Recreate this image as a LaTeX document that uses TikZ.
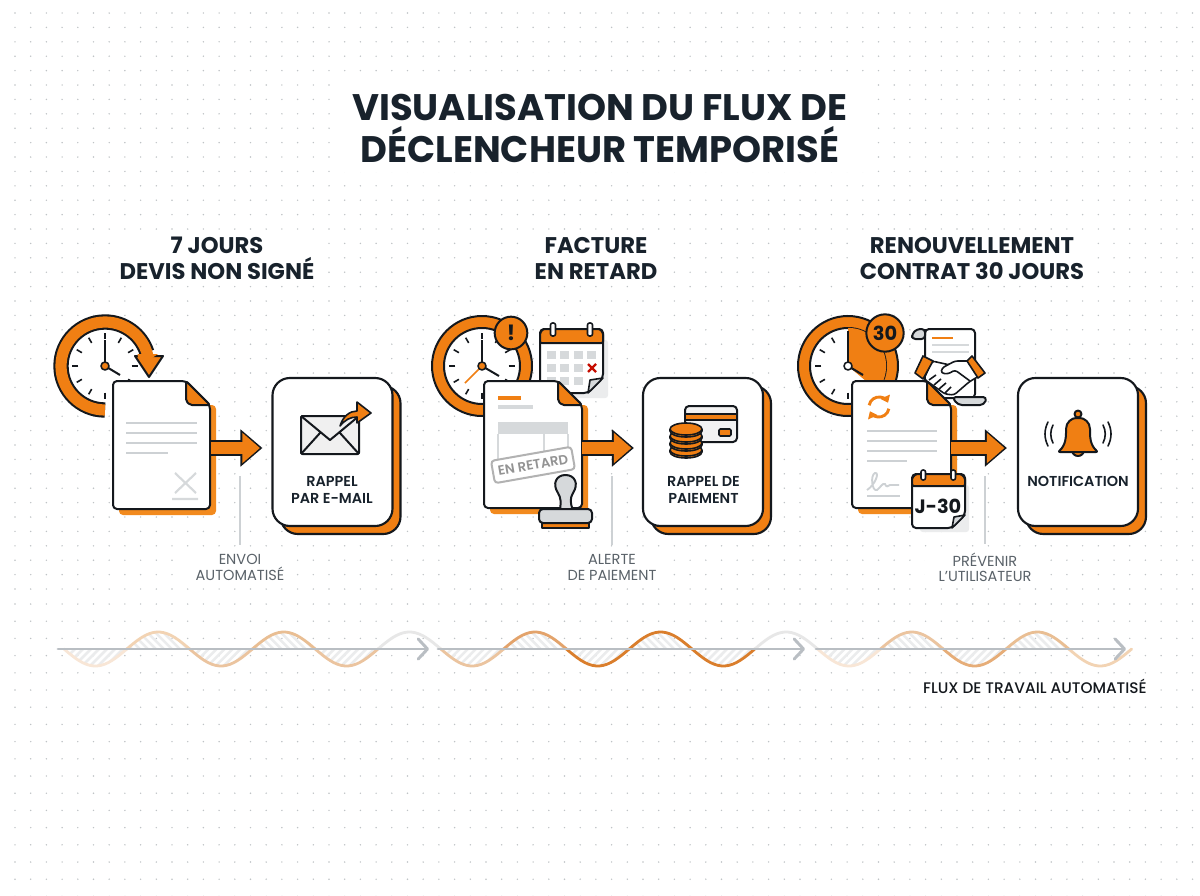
\documentclass[tikz,border=0pt]{standalone}
\usepackage{fontspec}
\setmainfont{Poppins}
\newfontfamily\semifont{Poppins SemiBold}
\newfontfamily\medifont{Poppins Medium}
\usetikzlibrary{arrows.meta,calc,shapes.geometric}
\definecolor{or}{HTML}{F07F13}
\definecolor{orsh}{HTML}{F28A1E}
\definecolor{ink}{HTML}{14181D}
\definecolor{ttl}{HTML}{18222C}
\definecolor{gl}{HTML}{CDD1D4}
\definecolor{gm}{HTML}{D6D9DB}
\definecolor{gt}{HTML}{5A6269}
\definecolor{axc}{HTML}{B9BEC3}
\definecolor{ha}{HTML}{EBECED}
\definecolor{dotc}{HTML}{BFC3C6}
\definecolor{wa}{HTML}{F8E6D6}\definecolor{wb}{HTML}{F2D3B3}\definecolor{wc}{HTML}{EBC49F}
\definecolor{wd}{HTML}{E9BE93}\definecolor{we}{HTML}{E7E7E7}\definecolor{wf}{HTML}{E3A36B}
\definecolor{wg}{HTML}{DA7E2C}\definecolor{wh}{HTML}{E6AD78}
\tikzset{
 ol/.style={draw=ink,line width=1.5pt,line join=round},
 thin ol/.style={draw=ink,line width=1.2pt,line join=round},
 cardbox/.style={draw=ink,line width=1.6pt,rounded corners=13pt,minimum width=90pt,minimum height=111pt,inner sep=0pt},
 docbox/.style={inner sep=0pt,minimum width=73.5pt,minimum height=96pt},
 titletxt/.style={font=\fontsize{27.7}{30}\selectfont\bfseries,text=ttl,inner sep=0pt,anchor=base},
 headtxt/.style={font=\fontsize{17}{20}\selectfont\bfseries,text=ttl,inner sep=0pt,anchor=base},
 cardtxt/.style={font=\fontsize{10.8}{12.8}\selectfont\semifont,text=ttl,align=center,inner sep=0pt},
 subtxt/.style={font=\fontsize{10.9}{11.4}\selectfont,text=gt,align=center,inner sep=0pt},
 leader/.style={draw=gl,line width=1.1pt},
 axisline/.style={draw=axc,line width=2.1pt,line cap=round,-{Straight Barb[length=7pt,width=15pt,line width=2.2pt,round]}},
 glight/.style={draw=gl,line width=2.2pt},
 bigback/.style={draw=ink,line width=12pt,-{Triangle[length=16.5pt,width=27pt]}},
 bigfront/.style={draw=or,line width=8.6pt,-{Triangle[length=13.2pt,width=22pt]}},
}
\newcommand{\clockface}[2]{%
 \foreach \a in {0,30,...,330}{\draw[draw=ink,line width=1.2pt] ([shift={(\a:20pt)}]#1,#2) -- ([shift={(\a:24.5pt)}]#1,#2);}}
\newcommand{\docshape}[5]{%
 \fill[orsh,rounded corners=3pt] (#1+6,#2+24) rectangle (#3+6,#4+6);
 \draw[ol,fill=white,rounded corners=3pt] (#1,#2) -- (#3-#5,#2) -- (#3,#2+#5) -- (#3,#4) -- (#1,#4) -- cycle;
 \draw[ol,fill=or,rounded corners=1.5pt] (#3-#5,#2) -- (#3,#2+#5) -- (#3-#5+4,#2+#5) -- (#3-#5,#2+#5-4) -- cycle;}
\newcommand{\bigarrow}[4]{%
 \draw[bigback,shorten >=#3*0.75pt] ([yshift=-2.25pt]#1.east) -- ([yshift=3pt]#2.west);
 \draw[bigfront,shorten >=#3*0.75pt+1.9pt] ([yshift=-2.25pt]#1.east) -- ([yshift=3pt]#2.west);}
\newcommand{\lobe}[3]{% from, to, sign
 \begin{scope}
 \clip plot[domain=#1:#2,samples=16] (\x,{649+17*sin(2.8662*(\x-64))}) -- cycle;
 \foreach \k in {-4,...,13}{\draw[ha,line width=1.9pt] (#1+\k*8,628) -- (#1+\k*8+#3*42,670);}
 \end{scope}}
\begin{document}
\begin{tikzpicture}[x=0.75pt,y=-0.75pt]
\useasboundingbox (0,0) rectangle (1200,896);
\fill[white] (0,0) rectangle (1200,896);
% dot grid
\foreach \i in {0,...,76}{\foreach \j in {0,...,40}{\fill[dotc] (15+\i*15.7,13+\j*14.4) circle[radius=0.6pt];}}
\foreach \i in {0,...,76}{\foreach \j in {0,...,17}{\fill[dotc] (15+\i*15.7,604+\j*17.2) circle[radius=0.6pt];}}
\fill[white] (335,82) rectangle (865,172);
\fill[white] (112,232) rectangle (322,284);
\fill[white] (525,232) rectangle (668,284);
\fill[white] (855,232) rectangle (1090,284);
\fill[white] (185,551) rectangle (295,584);
\fill[white] (555,551) rectangle (668,584);
\fill[white] (925,551) rectangle (1045,584);
\fill[white] (922,678) rectangle (1152,698);

% titles
\node[titletxt] (title1) at (600,120) {VISUALISATION DU FLUX DE};
\node[titletxt] (title2) at (600,162) {DÉCLENCHEUR TEMPORISÉ};
\node[headtxt] (h1a) at (217,253.5) {7 JOURS};
\node[headtxt] (h1b) at (217,279.5) {DEVIS NON SIGNÉ};
\node[headtxt] (h2a) at (596,253.5) {FACTURE};
\node[headtxt] (h2b) at (596,279.5) {EN RETARD};
\node[headtxt] (h3a) at (972,253.5) {RENOUVELLEMENT};
\node[headtxt] (h3b) at (972,279.5) {CONTRAT 30 JOURS};

%%% ---------- BLOCK 1
\fill[white] (105,366) circle[radius=28.5pt];
\draw[ink,line width=11.5pt,line cap=butt] ([shift={(270:33pt)}]105,366) arc[start angle=270,end angle=18,radius=33pt];
\draw[or,line width=8.4pt,line cap=butt] ([shift={(270:33pt)}]105,366) arc[start angle=270,end angle=14,radius=33pt];
\draw[ol,fill=or] (135,356) -- (163,356) -- (149,377) -- cycle;
\fill[or] (137.5,354) -- (158,354) -- (152,358) -- (138,358) -- cycle;
\clockface{105}{366}
\draw[ink,line width=1.5pt] (105,366) -- (105,340);
\draw[ink,line width=1.5pt] (105,366) -- (120,375);
\draw[thin ol,fill=or] (105,366) circle[radius=3pt];
\node[docbox] (doc1) at (161.5,445) {};
\docshape{113}{381}{210}{509}{24}
\foreach \yy/\xe in {423/197,433/197,443/197,453/168}{\draw[gl,line width=1.6pt] (126,\yy) -- (\xe,\yy);}
\draw[gm,line width=1.6pt] (175,473) -- (196,493) (196,473) -- (175,493) (172,499) -- (198,499);
\node[cardbox,fill=or] (back1) at (340.5,460) {};
\node[cardbox,fill=white] (card1) at (332.5,452) {};
\bigarrow{doc1}{card1}{9}{}
% envelope
\draw[ol,fill=gray!12,rounded corners=1pt] (301,416) rectangle (359,454);
\draw[ol] (301,416) -- (330,440) -- (359,416) (301,454) -- (320,433) (359,454) -- (340,433);
\draw[thin ol,fill=or] (340,426) .. controls (343,416) and (350,411) .. (357,411) -- (357,402) -- (371,413) -- (357,423) -- (357,417) .. controls (350,417) and (345,420) .. (340,426) -- cycle;
\node[cardtxt] (c1) at (332,489.5) {RAPPEL\\PAR E-MAIL};
\coordinate (l1a) at (240,476);
\node[subtxt] (s1) at (240,567.5) {ENVOI\\AUTOMATISÉ};
\draw[leader] (l1a) -- ([yshift=7pt]s1.north);

%%% ---------- BLOCK 2
\draw[ol,fill=or] (482,366) circle[radius=37.5pt];
\draw[ol,fill=white] (482,366) circle[radius=28.5pt];
\clockface{482}{366}
\draw[ink,line width=1.5pt] (482,366) -- (482,340);
\draw[ink,line width=1.5pt] (482,366) -- (499,376);
\draw[or,line width=1.3pt] (482,366) -- (465,383);
\draw[thin ol,fill=or] (482,366) circle[radius=3pt];
\node[ol,circle,fill=or,minimum size=24.5pt,inner sep=0pt,font=\fontsize{16}{18}\selectfont\bfseries,text=ink] (bang) at (511,333) {!};
% calendar
\fill[ha,rounded corners=2pt] (546,340) rectangle (608,398);
\draw[ol,fill=white,rounded corners=3pt] (540,329) -- (603,329) -- (603,378) -- (588,393) -- (540,393) -- cycle;
\draw[ol,fill=or,rounded corners=1pt] (540,343) -- (540,333) -- (543,329) -- (600,329) -- (603,333) -- (603,343) -- cycle;
\draw[thin ol,fill=white,rounded corners=1.5pt] (550.5,323) rectangle (555.5,336);
\draw[thin ol,fill=white,rounded corners=1.5pt] (587.5,323) rectangle (592.5,336);
\foreach \cx in {547,560,574,587}{\fill[gm] (\cx,351) rectangle (\cx+9,359);}
\foreach \cx in {547,560,574}{\fill[gm] (\cx,364) rectangle (\cx+9,372);}
\foreach \cx in {547,560,574}{\fill[gm] (\cx,377) rectangle (\cx+9,385);}
\draw[red!75!black!90!orange,line width=1.7pt] (588,364) -- (596,372) (596,364) -- (588,372);
\draw[thin ol,fill=gm] (588,393) -- (603,378) -- (590,380) -- cycle;
\node[docbox] (doc2) at (533,445) {};
\docshape{484}{381}{582}{508}{24}
\draw[or,line width=2.6pt] (498,398) -- (521,398);
\draw[gm,line width=3pt] (498,407) -- (533,407);
\fill[gm] (498,422) rectangle (568,434);
\draw[gm,line width=1pt] (498,434) -- (498,465) (544,434) -- (544,455) (568,434) -- (568,455);
\node[draw=gray!60,line width=1.5pt,fill=white,rounded corners=2.5pt,rotate=10,minimum width=61pt,minimum height=17pt,inner sep=0pt,text=gray!85,font=\fontsize{10}{12}\selectfont\semifont] (stamp) at (533,465) {EN RETARD};
\draw[ol,fill=gm] (560,510) .. controls (561,502) and (561,498) .. (558,493) .. controls (552,484) and (556,475) .. (565.5,475) .. controls (575,475) and (579,484) .. (573,493) .. controls (570,498) and (570,503) .. (573,510) -- cycle;
\draw[ol,fill=or] (542,522) rectangle (589,528);
\draw[ol,fill=gm,rounded corners=3pt] (539,523) -- (539,509) -- (592,509) -- (592,523) -- cycle;
\node[cardbox,fill=or] (back2) at (711,460) {};
\node[cardbox,fill=white] (card2) at (703,452) {};
\bigarrow{doc2}{card2}{8}{}
% card + coins
\draw[ol,fill=gray!10,rounded corners=3pt] (685,406) rectangle (737,442);
\fill[or] (686,414) rectangle (736,420);
\draw[thin ol] (686,414) -- (736,414) (686,420) -- (736,420);
\draw[thin ol,fill=or,rounded corners=1pt] (719,429) rectangle (731,436);
\foreach \yy in {450,443,436,429}{
 \draw[thin ol,fill=or] (670,\yy) -- (670,\yy+2) arc[start angle=180,end angle=360,x radius=12pt,y radius=4.5pt] -- (702,\yy);
 \draw[thin ol,fill=or] (686,\yy) ellipse[x radius=12pt,y radius=4.5pt];}
\node[cardtxt] (c2) at (703.5,489.5) {RAPPEL DE\\PAIEMENT};
\coordinate (l2a) at (612,476);
\node[subtxt] (s2) at (612,567.5) {ALERTE\\DE PAIEMENT};
\draw[leader] (l2a) -- ([yshift=7pt]s2.north);

%%% ---------- BLOCK 3
\draw[ol,fill=or] (848,366) circle[radius=37.5pt];
\draw[ol,fill=white] (848,366) circle[radius=28.5pt];
\clockface{848}{366}
\fill[or] (848,366) -- ([shift={(90:28.6pt)}]848,366) arc[start angle=90,end angle=-40,radius=28.6pt] -- cycle;
\draw[ink,line width=1.6pt] (848,366) -- (848,331);
\draw[ink,line width=1.6pt] (848,366) -- (863,375);
\draw[thin ol,fill=white] (848,366) circle[radius=3pt];
\node[ol,circle,fill=or,minimum size=28pt,inner sep=0pt,font=\fontsize{14.5}{16}\selectfont\bfseries,text=ink] (thirty) at (885,333) {30};
\node[docbox] (doc3) at (901.5,445) {};
% scroll
\draw[ol,fill=white,rounded corners=3pt] (925,329) -- (975,329) -- (975,398) -- (925,398) -- cycle;
\draw[ol,fill=gm,rounded corners=2.5pt] (925,329) -- (917,329) -- (912,334) -- (912,339) -- (925,339) -- cycle;
\draw[ol,fill=white] (925,329) -- (925,362);
\draw[or,line width=1.8pt] (932,338) -- (953,338);
\draw[gm,line width=1.8pt] (932,345) -- (969,345) (932,352) -- (969,352);
\docshape{852}{381}{951}{508}{24}
\draw[ol,fill=gm,rounded corners=3pt] (952,397) -- (987,397) -- (984,405) -- (958,405) -- cycle;
% handshake
\draw[thin ol,fill=white,rounded corners=2pt] (932,361) -- (950,365) -- (967,361) -- (979,376) -- (969,382) -- (954,395) -- (945,394) -- (924,379) -- cycle;
\draw[thin ol,fill=white,rounded corners=2pt] (968,361) -- (955,361) -- (942,368) -- (941,373) -- (948,374) -- (955,370) -- (970,381);
\draw[thin ol] (929,380) -- (936,375) (934,385) -- (941,379) (939,389) -- (946,383) (945,393) -- (951,387);
\draw[thin ol,fill=or] (923,356) -- (933,361) -- (923,379) -- (915,373) -- cycle;
\draw[thin ol,fill=or] (972,356) -- (985,373) -- (978,378) -- (967,361) -- cycle;
\foreach \yy/\xe in {431/937,441/937,451/937,461/907}{\draw[gl,line width=1.6pt] (867,\yy) -- (\xe,\yy);}
\draw[gl,line width=1.4pt] (867,490) .. controls (875,485) and (880,472) .. (875,473) .. controls (870,475) and (872,492) .. (877,490) .. controls (881,487) and (882,483) .. (885,484) .. controls (886,487) and (888,487) .. (890,485) -- (899,485);
\draw[gl,line width=1.6pt] (867,496) -- (900,496);
\draw[or,line width=2.2pt,-{Triangle[length=5pt,width=7.5pt]}] ([shift={(170:7.5pt)}]879,407) arc[start angle=170,end angle=25,radius=7.5pt];
\draw[or,line width=2.2pt,-{Triangle[length=5pt,width=7.5pt]}] ([shift={(350:7.5pt)}]879,407) arc[start angle=350,end angle=205,radius=7.5pt];
% J-30 calendar
\fill[ha,rounded corners=2pt] (920,485) rectangle (969,532);
\draw[ol,fill=white,rounded corners=3pt] (912,474) -- (965,474) -- (965,515) -- (952,528) -- (912,528) -- cycle;
\draw[ol,fill=or,rounded corners=1pt] (912,486) -- (912,478) -- (916,474) -- (961,474) -- (965,478) -- (965,486) -- cycle;
\draw[thin ol,fill=white,rounded corners=1.5pt] (921,470) rectangle (925.5,480);
\draw[thin ol,fill=white,rounded corners=1.5pt] (951,470) rectangle (955.5,480);
\draw[thin ol,fill=gm] (952,528) -- (965,515) -- (954,517) -- cycle;
\node[inner sep=0pt,font=\fontsize{14.5}{16}\selectfont\bfseries,text=ink] (j30) at (938,506) {J-30};
\node[cardbox,fill=or] (back3) at (1086,460) {};
\node[cardbox,fill=white] (card3) at (1078,452) {};
\bigarrow{doc3}{card3}{10}{}
% bell
\draw[ol,fill=or] (1078,414) circle[radius=2.6pt];
\draw[ol,fill=or] (1072,450) arc[start angle=180,end angle=360,radius=4.5pt] -- cycle;
\draw[ol,fill=or,rounded corners=1.5pt] (1058,452) .. controls (1066,445) and (1066,436) .. (1066,431) .. controls (1066,422) and (1072,418) .. (1078,418) .. controls (1084,418) and (1090,422) .. (1090,431) .. controls (1090,436) and (1090,445) .. (1098,452) -- cycle;
\draw[ink,line width=1.2pt,line cap=round] (1053,425) .. controls (1050,431) and (1050,437) .. (1053,443) (1103,425) .. controls (1106,431) and (1106,437) .. (1103,443);
\draw[ink,line width=1.2pt,line cap=round] (1048,422) .. controls (1044,430) and (1044,438) .. (1048,446) (1108,422) .. controls (1112,430) and (1112,438) .. (1108,446);
\node[cardtxt] (c3) at (1078,481) {NOTIFICATION};
\coordinate (l3a) at (985,476);
\node[subtxt] (s3) at (985,567.5) {PRÉVENIR\\L'UTILISATEUR};
\draw[leader] (l3a) -- ([yshift=7pt]s3.north);

%%% ---------- WAVE
\foreach \k/\s in {0/-1,1/1,2/-1,3/1,4/-1,6/-1,7/1,8/-1,9/1,10/-1,12/-1,13/1,14/-1,15/1}{
 \pgfmathsetmacro{\xa}{64+62.8*\k}\pgfmathsetmacro{\xb}{\xa+62.8}
 \lobe{\xa}{\xb}{\s}}
\foreach \k/\c in {0/wa,1/wb,2/wc,3/wd,4/wc,5/we,6/wc,7/wf,8/wg,9/wg,10/wg,11/we,12/wa,13/wc,14/wh,15/wd,16/wb}{
 \pgfmathsetmacro{\xa}{64+62.8*\k}\pgfmathsetmacro{\xb}{\xa+62.8}
 \draw[\c,line width=2.1pt,line cap=round] plot[domain=\xa:\xb,samples=18] (\x,{649+17*sin(2.8662*(\x-64))});}
\coordinate (a1s) at (58,649);\coordinate (a1e) at (429,649);
\coordinate (a2s) at (438,649);\coordinate (a2e) at (805,649);
\coordinate (a3s) at (816,649);\coordinate (a3e) at (1126,649);
\draw[axisline] (a1s) -- (a1e);
\draw[axisline] (a2s) -- (a2e);
\draw[axisline] (a3s) -- (a3e);
\node[anchor=base east,inner sep=0pt,font=\fontsize{11.5}{13}\selectfont\medifont,text=ink] (flux) at (1147,693) {FLUX DE TRAVAIL AUTOMATISÉ};
\end{tikzpicture}
\end{document}
